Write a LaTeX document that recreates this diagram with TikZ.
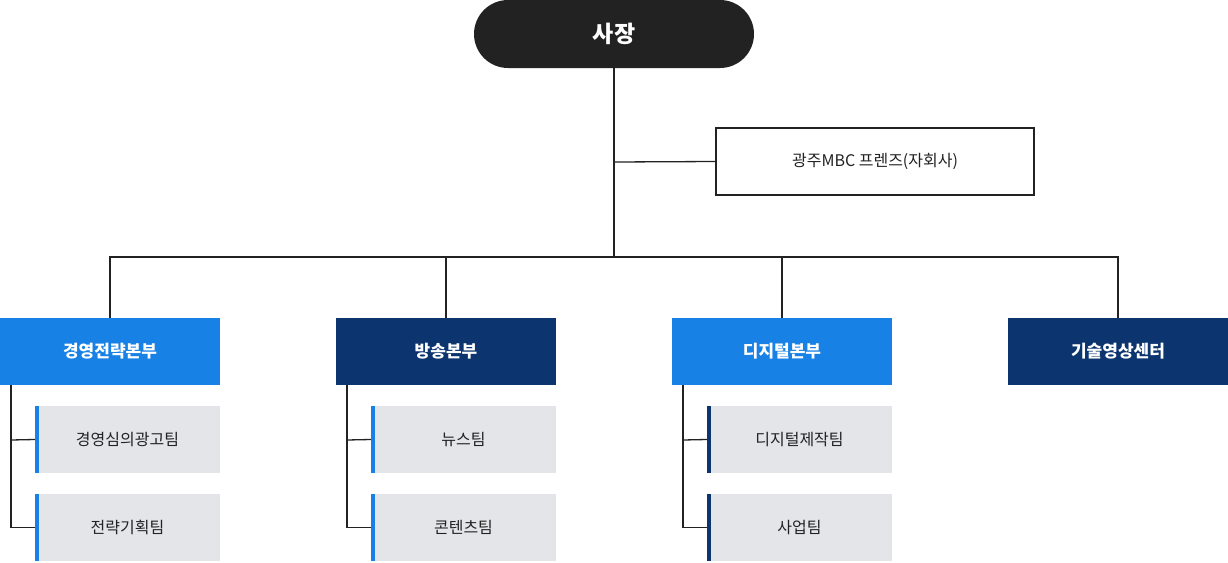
\documentclass[tikz,border=0pt]{standalone}
\usepackage{fontspec}
\setmainfont{Noto Sans CJK KR}
\definecolor{lb}{HTML}{1781E6}
\definecolor{nv}{HTML}{0C3570}
\definecolor{gr}{HTML}{E4E5E9}
\definecolor{dk}{HTML}{222222}
\definecolor{ln}{HTML}{222222}
\begin{document}
\begin{tikzpicture}[x=1pt,y=-1pt,
 conn/.style={draw=ln,line width=1.3pt},
 head/.style={minimum width=220pt,minimum height=67pt,inner sep=0,font=\fontsize{17}{20}\selectfont\bfseries,text=white},
 sub/.style={fill=gr,minimum width=185pt,minimum height=67pt,inner sep=0,font=\fontsize{16}{19}\selectfont,text=dk}]
\useasboundingbox (0,0) rectangle (1228,562);
\node[fill=dk,rounded corners=34pt,minimum width=280pt,minimum height=68pt,inner sep=0,text=white,font=\fontsize{23}{26}\selectfont\bfseries] (ceo) at (614,34) {사장};
\node[draw=ln,line width=1.3pt,fill=white,minimum width=318pt,minimum height=67pt,inner sep=0,font=\fontsize{16}{19}\selectfont,text=dk] (sub) at (875,161.5) {광주MBC 프렌즈(자회사)};
\coordinate (j) at (614,162);
\coordinate (m) at (614,257);
\draw[conn] (ceo.south) -- (m);
\draw[conn] (j) -- (sub.west);
\node[head,fill=lb] (h1) at (110,351.5) {경영전략본부};
\node[head,fill=nv] (h2) at (446,351.5) {방송본부};
\node[head,fill=lb] (h3) at (782,351.5) {디지털본부};
\node[head,fill=nv] (h4) at (1118,351.5) {기술영상센터};
\draw[conn] (h1.north) -- (110,257) -- (1118,257) -- (h4.north);
\draw[conn] (h2.north) -- (446,257);
\draw[conn] (h3.north) -- (782,257);
\foreach \h/\x/\c/\a/\b in {h1/0/lb/경영심의광고팀/전략기획팀, h2/336/lb/뉴스팀/콘텐츠팀, h3/672/nv/디지털제작팀/사업팀}{
 \node[sub] (\h a) at (\x+127.5,439.5) {\a};
 \node[sub] (\h b) at (\x+127.5,527.5) {\b};
 \fill[\c] (\x+35,406) rectangle (\x+39,473);
 \fill[\c] (\x+35,494) rectangle (\x+39,561);
 \draw[conn] (\x+11,385) |- (\h b.west);
 \draw[conn] (\x+11,440) -- (\h a.west);
}
\end{tikzpicture}
\end{document}
